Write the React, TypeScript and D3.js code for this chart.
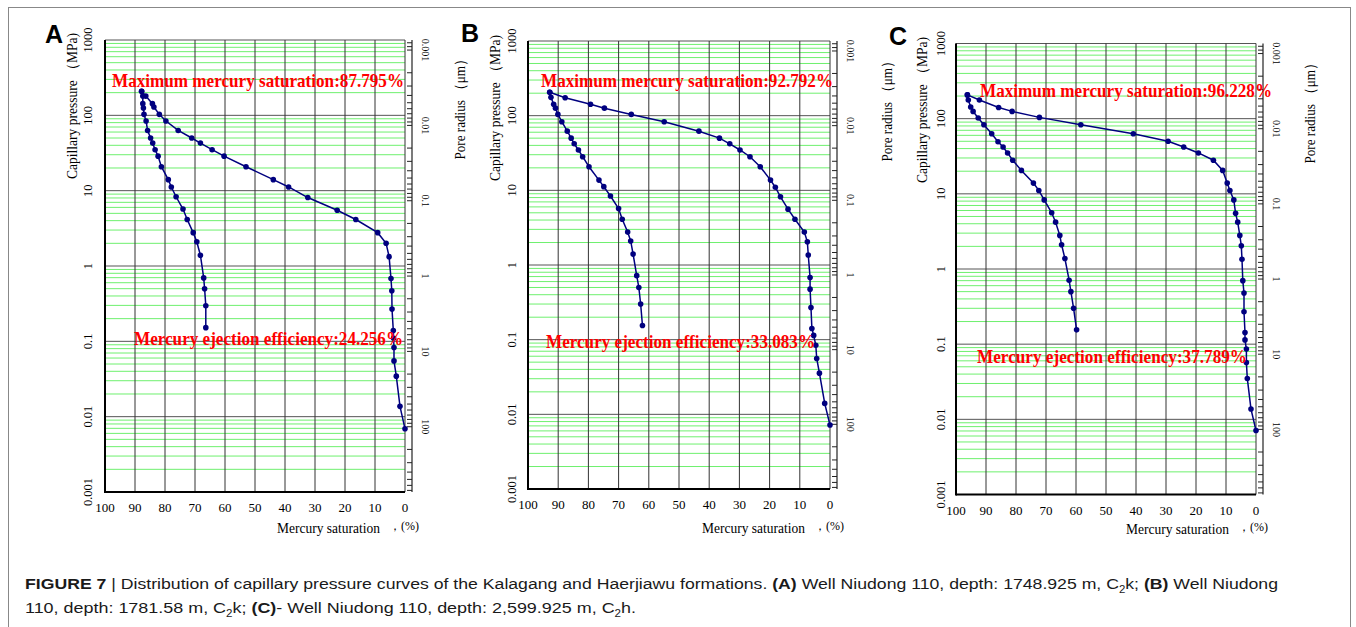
import React from "react";
import * as d3 from "d3";

// ---------- Data ----------
const satTicks = [100, 90, 80, 70, 60, 50, 40, 30, 20, 10, 0];
const pcTicks = [1000, 100, 10, 1, 0.1, 0.01, 0.001];
const poreLabels = [0.001, 0.01, 0.1, 1, 10, 100];
const poreTickFactor = 0.735; // r (μm) = 0.735 / Pc (MPa)

// Panel A
const pcA_in = [0.0069, 0.0137, 0.0345, 0.055, 0.083, 0.11, 0.139, 0.268, 0.47, 0.68, 1.33, 2.0, 2.77, 4.14, 5.5, 8.1, 11.2, 14, 20.8, 28.7, 35, 42.8, 50, 63, 84, 103, 129, 143, 180, 208];
const satA_in = [0, 1.67, 2.9, 3.67, 3.67, 3.8, 3.9, 4.33, 4.4, 4.67, 5.3, 6.3, 9.1, 16.4, 22.6, 32.4, 38.8, 43.9, 53, 60.3, 64.3, 68.2, 71.1, 75.6, 79.7, 81.9, 83.7, 84.2, 86.4, 87.8];
const pcA_out = [208, 180, 143, 125, 103, 84, 63, 50, 42.8, 35, 28.7, 20.8, 14, 11.2, 8.3, 5.7, 4.14, 2.77, 2.1, 1.39, 0.695, 0.5, 0.297, 0.152];
const satA_out = [87.8, 87.4, 87.4, 87.2, 87.0, 86.3, 85.8, 84.8, 84.1, 83.3, 82.3, 81.2, 78.9, 77.9, 76.3, 74.0, 72.6, 70.6, 69.4, 68.2, 67.1, 66.8, 66.4, 66.4];

// Panel B
const pcB_in = [0.0072, 0.014, 0.0356, 0.056, 0.084, 0.114, 0.141, 0.27, 0.475, 0.68, 1.36, 2.05, 2.76, 4.1, 5.6, 8.2, 11, 13.7, 20.7, 28.2, 34.7, 42, 50, 62, 83, 104, 126, 142, 174, 206];
const satB_in = [0, 1.75, 3.5, 4.4, 4.7, 5.4, 6.0, 6.3, 6.6, 6.6, 7.2, 7.5, 8.5, 11.6, 13.9, 16.4, 18.1, 19.7, 23.1, 26.5, 29.8, 33.2, 36.6, 43.4, 54.9, 65.8, 74.7, 79.3, 87.7, 92.8];
const pcB_out = [206, 176, 142, 126, 104, 83, 62, 50, 42, 34.7, 28.2, 20.7, 13.7, 11.2, 8.4, 5.7, 4.1, 2.76, 2.1, 1.4, 0.72, 0.5, 0.3, 0.155];
const satB_out = [92.8, 92.4, 91.5, 90.9, 90.1, 88.8, 87.0, 85.7, 84.7, 83.3, 81.9, 79.8, 76.5, 74.9, 72.7, 70.0, 68.8, 67.0, 66.0, 65.2, 64.0, 63.3, 62.7, 62.1];

// Panel C
const pcC_in = [0.0071, 0.0137, 0.035, 0.057, 0.086, 0.114, 0.143, 0.27, 0.48, 0.7, 1.35, 2.04, 2.8, 4.2, 5.5, 8.3, 11.1, 13.9, 20.5, 28, 35, 42, 50, 63, 83, 104, 125, 141, 177, 207];
const satC_in = [0, 1.67, 2.9, 3.2, 3.2, 3.67, 3.67, 4.0, 4.0, 4.4, 4.67, 4.9, 5.4, 6.1, 6.8, 7.4, 8.7, 9.6, 11.1, 14.2, 19.2, 24.1, 29.3, 40.9, 58.4, 72.2, 81.3, 85.8, 92.2, 96.2];
const pcC_out = [207, 177, 143, 125, 102, 83, 63, 49.4, 42, 35, 28, 20.5, 13.9, 11.1, 8.3, 5.6, 4.2, 2.8, 2.1, 1.38, 0.71, 0.5, 0.3, 0.155];
const satC_out = [96.2, 95.9, 95.1, 94.3, 92.6, 90.7, 88.1, 86.0, 84.3, 82.8, 81.1, 78.2, 74.2, 72.4, 70.6, 68.1, 66.8, 65.4, 64.8, 63.7, 62.3, 61.7, 60.8, 59.8];

const maxTexts = ["Maximum mercury saturation:87.795%", "Maximum mercury saturation:92.792%", "Maximum mercury saturation:96.228%"];
const ejTexts = ["Mercury ejection efficiency:24.256%", "Mercury ejection efficiency:33.083%", "Mercury ejection efficiency:37.789%"];
const letters = ["A", "B", "C"];

// ---------- Layout ----------
type Cfg = {
  lx: number; ly: number;
  x0: number; x1: number; y0: number; y1: number;
  pcLabelX: number; pcLabelCY: number;
  poreLeftX?: number; poreLeftCY?: number;
  poreRightX?: number; poreRightCY?: number;
  tickLX: number; tickRX: number; xTickY: number;
  xTitleX: number; xTitleY: number;
  maxX: number; maxW: number; maxY: number;
  ejX: number; ejW: number; ejY: number;
};

const layouts: Cfg[] = [
  { lx: 45, ly: 43, x0: 105, x1: 405, y0: 40, y1: 492, pcLabelX: 72, pcLabelCY: 106,
    tickLX: 88, tickRX: 425, xTickY: 507, xTitleX: 277, xTitleY: 528,
    maxX: 112, maxW: 292, maxY: 81, ejX: 134, ejW: 269, ejY: 339 },
  { lx: 461, ly: 42, x0: 528, x1: 830, y0: 41, y1: 489, pcLabelX: 495, pcLabelCY: 108,
    poreLeftX: 460, poreLeftCY: 106,
    tickLX: 512, tickRX: 850, xTickY: 504, xTitleX: 702, xTitleY: 528,
    maxX: 541, maxW: 292, maxY: 81, ejX: 546, ejW: 269, ejY: 342 },
  { lx: 889, ly: 45, x0: 956, x1: 1256, y0: 43.5, y1: 494.5, pcLabelX: 922, pcLabelCY: 110,
    poreLeftX: 887, poreLeftCY: 108, poreRightX: 1310, poreRightCY: 110,
    tickLX: 941, tickRX: 1276, xTickY: 510, xTitleX: 1126, xTitleY: 529,
    maxX: 980, maxW: 292, maxY: 91, ejX: 977, ejW: 270, ejY: 357 },
];

const serif = "'Liberation Serif', 'Times New Roman', serif";
const sans = "'Liberation Sans', Arial, sans-serif";
const NAVY = "#00007f";
const GREEN = "#6ef06e";

function Panel({ cfg, idx, satIn, pcIn, satOut, pcOut }: any) {
  const x = d3.scaleLinear().domain([100, 0]).range([cfg.x0, cfg.x1]);
  const y = d3.scaleLog().domain([1000, 0.001]).range([cfg.y0, cfg.y1]);
  const line = d3.line<[number, number]>().x((d) => x(d[0])).y((d) => y(d[1]));
  const inPts: [number, number][] = satIn.map((s: number, i: number) => [s, pcIn[i]]);
  const outPts: [number, number][] = satOut.map((s: number, i: number) => [s, pcOut[i]]);

  const minor: number[] = [];
  const decades = [0.001, 0.01, 0.1, 1, 10, 100];
  decades.forEach((d) => { for (let k = 2; k <= 9; k++) minor.push(d * k); });
  const majors = [0.01, 0.1, 1, 10, 100, 1000];

  const rTicks: number[] = [];
  for (let n = -4; n <= 2; n++) for (let k = 1; k <= 9; k++) {
    const r = k * Math.pow(10, n);
    const pc = poreTickFactor / r;
    if (pc <= 1000 && pc >= 0.001) rTicks.push(r);
  }
  const axR = cfg.x1 + 7;

  return (
    <g>
      <text x={cfg.lx} y={cfg.ly} fontFamily={sans} fontWeight="bold" fontSize={25}>{letters[idx]}</text>
      {minor.map((v, i) => (
        <line key={"m" + i} x1={cfg.x0} x2={cfg.x1} y1={y(v)} y2={y(v)} stroke={GREEN} strokeWidth={1} />
      ))}
      {majors.map((v, i) => (
        <line key={"M" + i} x1={cfg.x0} x2={cfg.x1} y1={y(v)} y2={y(v)} stroke="#555" strokeWidth={1} />
      ))}
      {satTicks.map((v, i) => (
        <line key={"v" + i} x1={x(v)} x2={x(v)} y1={cfg.y0} y2={cfg.y1} stroke="#333" strokeWidth={1} />
      ))}
      <line x1={cfg.x0} x2={cfg.x0} y1={cfg.y0} y2={cfg.y1 + 1} stroke="#000" strokeWidth={2} />
      <line x1={cfg.x0} x2={cfg.x1} y1={cfg.y1} y2={cfg.y1} stroke="#000" strokeWidth={2} />
      <line x1={axR} x2={axR} y1={cfg.y0} y2={cfg.y1} stroke="#222" strokeWidth={1.2} />
      {rTicks.map((r, i) => (
        <line key={"r" + i} x1={axR - 5} x2={axR} y1={y(poreTickFactor / r)} y2={y(poreTickFactor / r)} stroke="#222" strokeWidth={1} />
      ))}
      {pcTicks.map((v, i) => (
        <text key={"lt" + i} transform={`translate(${cfg.tickLX},${y(v)}) rotate(-90)`} textAnchor="middle"
          dominantBaseline="central" fontFamily={serif} fontSize={12.5}>{String(v)}</text>
      ))}
      {poreLabels.map((v, i) => (
        <text key={"rt" + i} transform={`translate(${cfg.tickRX},${y(poreTickFactor / v)}) rotate(90)`} textAnchor="middle"
          dominantBaseline="central" fontFamily={serif} fontSize={10}>{String(v)}</text>
      ))}
      {satTicks.map((v, i) => (
        <text key={"bt" + i} x={x(v)} y={cfg.xTickY} textAnchor="middle" dominantBaseline="central"
          fontFamily={serif} fontSize={13}>{String(v)}</text>
      ))}
      <text transform={`translate(${cfg.pcLabelX},${cfg.pcLabelCY}) rotate(-90)`} textAnchor="middle"
        dominantBaseline="central" fontFamily={serif} fontSize={14.5} textLength={146} lengthAdjust="spacingAndGlyphs">
        Capillary pressure （MPa)
      </text>
      {cfg.poreLeftX !== undefined && (
        <text transform={`translate(${cfg.poreLeftX},${cfg.poreLeftCY}) rotate(-90)`} textAnchor="middle"
          dominantBaseline="central" fontFamily={serif} fontSize={14.5} textLength={107} lengthAdjust="spacingAndGlyphs">
          Pore radius （μm）
        </text>
      )}
      {cfg.poreRightX !== undefined && (
        <text transform={`translate(${cfg.poreRightX},${cfg.poreRightCY}) rotate(-90)`} textAnchor="middle"
          dominantBaseline="central" fontFamily={serif} fontSize={14.5} textLength={107} lengthAdjust="spacingAndGlyphs">
          Pore radius （μm）
        </text>
      )}
      <text x={cfg.xTitleX} y={cfg.xTitleY} dominantBaseline="central" fontFamily={serif} fontSize={14.5}
        textLength={103} lengthAdjust="spacingAndGlyphs">Mercury saturation</text>
      <text x={cfg.xTitleX + 112} y={cfg.xTitleY - 2} dominantBaseline="central" fontFamily={serif} fontSize={12}>，(%)</text>
      <path d={line(inPts) || ""} fill="none" stroke={NAVY} strokeWidth={1.5} />
      <path d={line(outPts) || ""} fill="none" stroke={NAVY} strokeWidth={1.5} />
      {inPts.concat(outPts).map((p, i) => (
        <circle key={"p" + i} cx={x(p[0])} cy={y(p[1])} r={2.8} fill={NAVY} />
      ))}
      <text x={cfg.maxX} y={cfg.maxY} dominantBaseline="central" fontFamily={serif} fontWeight="bold" fontSize={18.5}
        fill="#ff0000" textLength={cfg.maxW} lengthAdjust="spacingAndGlyphs">{maxTexts[idx]}</text>
      <text x={cfg.ejX} y={cfg.ejY} dominantBaseline="central" fontFamily={serif} fontWeight="bold" fontSize={18.5}
        fill="#ff0000" textLength={cfg.ejW} lengthAdjust="spacingAndGlyphs">{ejTexts[idx]}</text>
    </g>
  );
}

export default function App() {
  const sets = [
    [satA_in, pcA_in, satA_out, pcA_out],
    [satB_in, pcB_in, satB_out, pcB_out],
    [satC_in, pcC_in, satC_out, pcC_out],
  ];
  return (
    <svg width={1356} height={627} style={{ position: "absolute", left: 0, top: 0, background: "#fff" }}>
      <rect x={0} y={0} width={1356} height={627} fill="#fff" />
      <rect x={8.5} y={7.5} width={1342} height={700} fill="none" stroke="#888" strokeWidth={1} />
      {layouts.map((cfg, i) => (
        <Panel key={i} cfg={cfg} idx={i} satIn={sets[i][0]} pcIn={sets[i][1]} satOut={sets[i][2]} pcOut={sets[i][3]} />
      ))}
      <text x={25} y={589} fontFamily={sans} fontSize={15.5} fill="#1a1a1a" textLength={1253} lengthAdjust="spacingAndGlyphs">
        <tspan fontWeight="bold">FIGURE 7 </tspan>
        <tspan>| Distribution of capillary pressure curves of the Kalagang and Haerjiawu formations. </tspan>
        <tspan fontWeight="bold">(A)</tspan>
        <tspan> Well Niudong 110, depth: 1748.925 m, C</tspan>
        <tspan fontSize={10} dy={4}>2</tspan>
        <tspan dy={-4}>k; </tspan>
        <tspan fontWeight="bold">(B)</tspan>
        <tspan> Well Niudong</tspan>
      </text>
      <text x={25} y={613} fontFamily={sans} fontSize={15.5} fill="#1a1a1a" textLength={611} lengthAdjust="spacingAndGlyphs">
        <tspan>110, depth: 1781.58 m, C</tspan>
        <tspan fontSize={10} dy={4}>2</tspan>
        <tspan dy={-4}>k; </tspan>
        <tspan fontWeight="bold">(C)</tspan>
        <tspan>- Well Niudong 110, depth: 2,599.925 m, C</tspan>
        <tspan fontSize={10} dy={4}>2</tspan>
        <tspan dy={-4}>h.</tspan>
      </text>
    </svg>
  );
}
